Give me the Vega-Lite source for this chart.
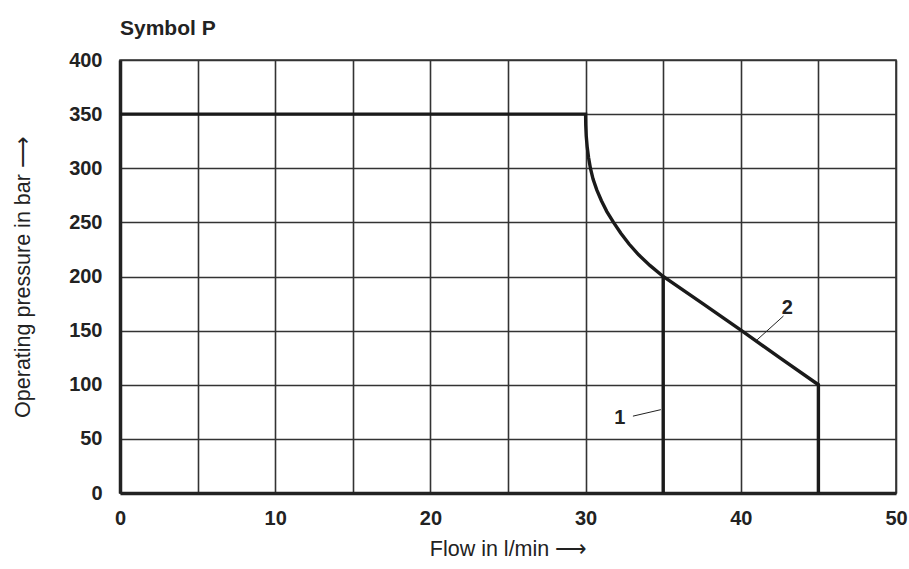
{
  "$schema": "https://vega.github.io/schema/vega-lite/v6.json",
  "width": 776,
  "height": 433,
  "autosize": "none",
  "padding": {"left": 120, "top": 60, "right": 13, "bottom": 76},
  "background": "white",
  "title": {"text": "Symbol P", "anchor": "start", "frame": "group", "fontSize": 21, "font": "Liberation Sans", "fontWeight": "bold", "color": "#222", "offset": 11},
  "config": {
    "view": {"stroke": "#333", "strokeWidth": 1.6},
    "axis": {"labelFont": "Liberation Sans", "labelFontWeight": "bold", "labelFontSize": 20, "labelColor": "#222", "labelFlush": false, "labelOverlap": false, "titleFont": "Liberation Sans", "titleFontWeight": "normal", "titleFontSize": 21.5, "titleColor": "#222", "gridColor": "#333", "gridWidth": 1.6, "gridOpacity": 1, "ticks": false, "domainColor": "#222", "domainWidth": 3.5}
  },
  "datasets": {
    "curves": [
      {"s": "a", "i": 0, "x": 0, "y": 350},
      {"s": "a", "i": 1, "x": 30, "y": 350},
      {"s": "a", "i": 2, "x": 30.01, "y": 340},
      {"s": "a", "i": 3, "x": 30.04, "y": 330},
      {"s": "a", "i": 4, "x": 30.1, "y": 320},
      {"s": "a", "i": 5, "x": 30.19, "y": 310},
      {"s": "a", "i": 6, "x": 30.31, "y": 300},
      {"s": "a", "i": 7, "x": 30.48, "y": 290},
      {"s": "a", "i": 8, "x": 30.72, "y": 280},
      {"s": "a", "i": 9, "x": 31.02, "y": 270},
      {"s": "a", "i": 10, "x": 31.37, "y": 260},
      {"s": "a", "i": 11, "x": 31.8, "y": 250},
      {"s": "a", "i": 12, "x": 32.27, "y": 240},
      {"s": "a", "i": 13, "x": 32.8, "y": 230},
      {"s": "a", "i": 14, "x": 33.42, "y": 220},
      {"s": "a", "i": 15, "x": 34.16, "y": 210},
      {"s": "a", "i": 16, "x": 35, "y": 200},
      {"s": "a", "i": 17, "x": 37.55, "y": 175},
      {"s": "a", "i": 18, "x": 40.05, "y": 150},
      {"s": "a", "i": 19, "x": 42.5, "y": 125},
      {"s": "a", "i": 20, "x": 45, "y": 100},
      {"s": "a", "i": 21, "x": 45, "y": 0},
      {"s": "b", "i": 0, "x": 35, "y": 200},
      {"s": "b", "i": 1, "x": 35, "y": 0}
    ],
    "leaders": [
      {"s": "1", "i": 0, "x": 33.05, "y": 71},
      {"s": "1", "i": 1, "x": 34.85, "y": 77},
      {"s": "2", "i": 0, "x": 42.75, "y": 163.5},
      {"s": "2", "i": 1, "x": 41.05, "y": 141.5}
    ],
    "labels": [
      {"t": "1", "x": 32.2, "y": 69},
      {"t": "2", "x": 43.0, "y": 171}
    ]
  },
  "layer": [
    {
      "data": {"name": "curves"},
      "mark": {"type": "line", "color": "#1a1a1a", "strokeWidth": 3.4, "strokeJoin": "miter", "clip": false},
      "encoding": {
        "x": {"field": "x", "type": "quantitative", "scale": {"domain": [0, 50], "nice": false, "zero": false},
          "axis": {"values": [0, 5, 10, 15, 20, 25, 30, 35, 40, 45, 50], "labelExpr": "datum.value % 10 == 0 ? datum.label : ''", "labelPadding": 15, "title": "Flow in l/min ⟶", "titlePadding": 10}},
        "y": {"field": "y", "type": "quantitative", "scale": {"domain": [0, 400], "nice": false},
          "axis": {"values": [0, 50, 100, 150, 200, 250, 300, 350, 400], "labelPadding": 18, "title": "Operating pressure in bar  ⟶", "titlePadding": 34}},
        "detail": {"field": "s"},
        "order": {"field": "i"}
      }
    },
    {
      "data": {"name": "leaders"},
      "mark": {"type": "line", "color": "#222", "strokeWidth": 1},
      "encoding": {
        "x": {"field": "x", "type": "quantitative"},
        "y": {"field": "y", "type": "quantitative"},
        "detail": {"field": "s"},
        "order": {"field": "i"}
      }
    },
    {
      "data": {"name": "labels"},
      "mark": {"type": "text", "font": "Liberation Sans", "fontWeight": "bold", "fontSize": 20, "color": "#222", "align": "center", "baseline": "middle"},
      "encoding": {
        "x": {"field": "x", "type": "quantitative"},
        "y": {"field": "y", "type": "quantitative"},
        "text": {"field": "t"}
      }
    }
  ]
}
